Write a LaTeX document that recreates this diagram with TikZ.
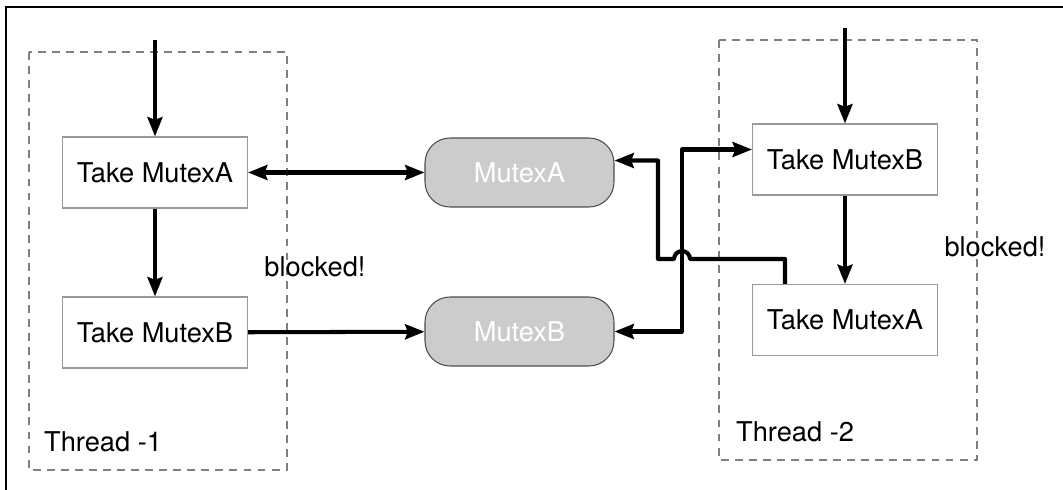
\documentclass[tikz,border=0pt]{standalone}
\usepackage{fontspec}
\setmainfont{TeX Gyre Heros}
\usetikzlibrary{arrows.meta}

\begin{document}
\begin{tikzpicture}[
  x=0.02cm, y=-0.02cm,
  every node/.style={font=\fontsize{15.5}{18}\selectfont},
  task/.style={draw=gray!80, line width=0.6pt, minimum width=3.7cm, minimum height=1.42cm},
  mutex/.style={draw=black!70, fill=black!20, text=white, rounded corners=0.5cm,
    minimum width=3.78cm, minimum height=1.38cm, line width=0.6pt},
  thread/.style={draw=gray, dash pattern=on 4.5pt off 3.5pt, line width=0.9pt},
  arr/.style={line width=2.3pt, line join=round, -{Stealth[length=11pt,width=8.5pt,inset=1.5pt]}},
  dbl/.style={line width=2.3pt, line join=round,
    {Stealth[length=11pt,width=8.5pt,inset=1.5pt]}-{Stealth[length=11pt,width=8.5pt,inset=1.5pt]}},
]
\useasboundingbox (0,0) rectangle (1063,490);
%\draw[gray, help lines] (0,0) grid (1063,490);
\draw[line width=1.6pt] (1063,7) -- (6,7) -- (6,490);
\draw[thread] (29,52) rectangle (287,470);
\draw[thread] (719,40) rectangle (977,460);

\node[task] (t1a) at (155,172.5) {Take MutexA};
\node[task] (t1b) at (155,332.5) {Take MutexB};
\node[task] (t2b) at (845,159.5) {Take MutexB};
\node[task] (t2a) at (845,320) {Take MutexA};
\node[mutex] (ma) at (519.5,172.5) {MutexA};
\node[mutex] (mb) at (519.5,331.5) {MutexB};

\node (blk1) at (315,267) {blocked!};
\node (blk2) at (995,247) {blocked!};
\node[anchor=west] (th1) at (38,442) {Thread -1};
\node[anchor=west] (th2) at (730,432) {Thread -2};

\coordinate (in1) at (155,40);
\coordinate (in2) at (845,28);
\coordinate (hop) at (682,259);
\coordinate (hopR) at (690,259);
\coordinate (bend) at (658,259);
\coordinate (t2in) at ([yshift=0.2cm]t2b.west);
\coordinate (main) at ([yshift=0.24cm]ma.east);

\draw[arr] (in1) -- (t1a);
\draw[arr] (t1a) -- (t1b);
\draw[arr] (in2) -- (t2b);
\draw[arr] (t2b) -- (t2a);
\draw[dbl] (t1a) -- (ma);
\draw[arr] (t1b) -- (mb);
\draw[dbl] (mb.east) -| (hop) |- (t2in);
\draw[arr] ([xshift=-1.2cm]t2a.north) |- (hopR)
  arc[start angle=0, end angle=180, radius=0.16cm] -- (bend) |- (main);
\end{tikzpicture}
\end{document}
